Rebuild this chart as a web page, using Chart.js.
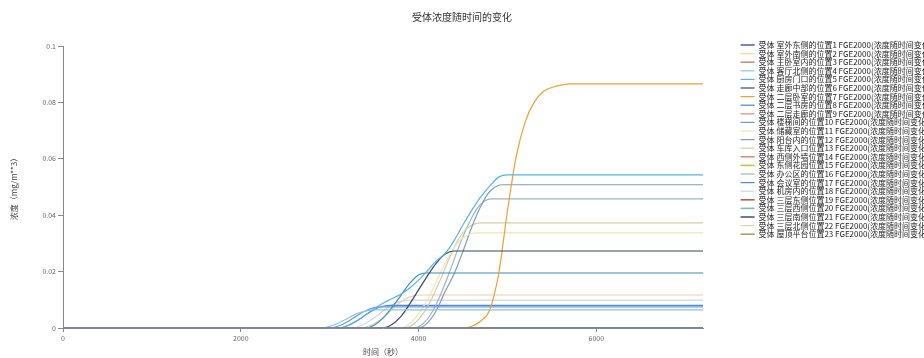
<!DOCTYPE html>
<html>
<head>
<meta charset="utf-8">
<script src="https://cdn.jsdelivr.net/npm/chart.js@4.4.1/dist/chart.umd.min.js"></script>
<style>
  html, body { margin: 0; padding: 0; background: #ffffff; overflow: hidden; }
</style>
</head>
<body>
<canvas id="graficoCurvas" width="924" height="358"></canvas>
<script>
// Etiquetas de la leyenda (una por serie)
const nombres = [
  "受体 室外东侧的位置1 FGE2000(浓度随时间变化)",
  "受体 室外南侧的位置2 FGE2000(浓度随时间变化)",
  "受体 主卧室内的位置3 FGE2000(浓度随时间变化)",
  "受体 客厅北侧的位置4 FGE2000(浓度随时间变化)",
  "受体 厨房门口的位置5 FGE2000(浓度随时间变化)",
  "受体 走廊中部的位置6 FGE2000(浓度随时间变化)",
  "受体 二层卧室的位置7 FGE2000(浓度随时间变化)",
  "受体 二层书房的位置8 FGE2000(浓度随时间变化)",
  "受体 二层走廊的位置9 FGE2000(浓度随时间变化)",
  "受体 楼梯间的位置10 FGE2000(浓度随时间变化)",
  "受体 储藏室的位置11 FGE2000(浓度随时间变化)",
  "受体 阳台内的位置12 FGE2000(浓度随时间变化)",
  "受体 车库入口位置13 FGE2000(浓度随时间变化)",
  "受体 西侧外墙位置14 FGE2000(浓度随时间变化)",
  "受体 东侧花园位置15 FGE2000(浓度随时间变化)",
  "受体 办公区的位置16 FGE2000(浓度随时间变化)",
  "受体 会议室的位置17 FGE2000(浓度随时间变化)",
  "受体 机房内的位置18 FGE2000(浓度随时间变化)",
  "受体 三层东侧位置19 FGE2000(浓度随时间变化)",
  "受体 三层西侧位置20 FGE2000(浓度随时间变化)",
  "受体 三层南侧位置21 FGE2000(浓度随时间变化)",
  "受体 三层北侧位置22 FGE2000(浓度随时间变化)",
  "受体 屋顶平台位置23 FGE2000(浓度随时间变化)"
];

// Colores de cada serie
const colores = [
  "#5468b0", "#ece0a0", "#d98a80", "#8cc4e0", "#56b4e9", "#34496e",
  "#f0a030", "#3d8bc0", "#e8a898", "#6a9be0", "#efe6b8", "#7f9fb8",
  "#d8cca8", "#d88f86", "#d4bc3c", "#9fb4c8", "#4f86e0", "#cdd6e6",
  "#b86050", "#7cbcc0", "#4a5a80", "#e2d4a8", "#b5a055"
];

// Valores [tiempo (s), concentración]
const serieCero = [[0, 0], [7200, 0]];
const serie04 = [[0, 0], [2900, 0], [3000, 0.0006], [3100, 0.0018], [3200, 0.0034], [3300, 0.0050], [3400, 0.0060], [3500, 0.0064], [7200, 0.0064]];
const serie05 = [[0, 0], [3100, 0], [3200, 0.0008], [3300, 0.0025], [3400, 0.0045], [3500, 0.0068], [3600, 0.0088], [3700, 0.0104], [3800, 0.0120], [3900, 0.0142], [4000, 0.0170], [4100, 0.0203], [4200, 0.0238], [4300, 0.0265], [4400, 0.0310], [4500, 0.0366], [4600, 0.0418], [4700, 0.0465], [4800, 0.0503], [4900, 0.0535], [5000, 0.0543], [7200, 0.0543]];
const serie06 = [[0, 0], [3600, 0], [3700, 0.0012], [3800, 0.0040], [3900, 0.0085], [4000, 0.0135], [4100, 0.0185], [4200, 0.0230], [4300, 0.0262], [4400, 0.0273], [7200, 0.0273]];
const serie07 = [[0, 0], [4500, 0], [4600, 0.0006], [4700, 0.0025], [4800, 0.0064], [4900, 0.0190], [5000, 0.0415], [5100, 0.0610], [5200, 0.0731], [5300, 0.0800], [5400, 0.0838], [5500, 0.0853], [5600, 0.0861], [5700, 0.0866], [7200, 0.0866]];
const serie08 = [[0, 0], [3400, 0], [3500, 0.0010], [3600, 0.0035], [3700, 0.0072], [3800, 0.0115], [3900, 0.0158], [4000, 0.0188], [4080, 0.0195], [7200, 0.0195]];
const serie10 = [[0, 0], [3000, 0], [3100, 0.0007], [3200, 0.0022], [3300, 0.0042], [3400, 0.0060], [3500, 0.0072], [3600, 0.0075], [7200, 0.0075]];
const serie11 = [[0, 0], [3800, 0], [3900, 0.0015], [4000, 0.0050], [4100, 0.0100], [4200, 0.0165], [4300, 0.0230], [4400, 0.0285], [4500, 0.0320], [4600, 0.0335], [4650, 0.0337], [7200, 0.0337]];
const serie12 = [[0, 0], [4000, 0], [4100, 0.0018], [4200, 0.0062], [4300, 0.0130], [4400, 0.0192], [4500, 0.0272], [4600, 0.0359], [4700, 0.0432], [4800, 0.0484], [4900, 0.0506], [4950, 0.0508], [7200, 0.0508]];
const serie13 = [[0, 0], [3850, 0], [3950, 0.0015], [4050, 0.0050], [4150, 0.0105], [4250, 0.0175], [4350, 0.0250], [4450, 0.0315], [4550, 0.0355], [4650, 0.0371], [4700, 0.0373], [7200, 0.0373]];
const serie16 = [[0, 0], [3950, 0], [4050, 0.0015], [4150, 0.0055], [4250, 0.0120], [4350, 0.0200], [4450, 0.0285], [4550, 0.0360], [4650, 0.0420], [4750, 0.0452], [4820, 0.0458], [7200, 0.0458]];
const serie17 = [[0, 0], [3100, 0], [3200, 0.0008], [3300, 0.0024], [3400, 0.0045], [3500, 0.0065], [3600, 0.0077], [3680, 0.0080], [7200, 0.0080]];
const serie18 = [[0, 0], [3250, 0], [3350, 0.0008], [3450, 0.0025], [3550, 0.0048], [3650, 0.0072], [3750, 0.0090], [3850, 0.0098], [3900, 0.0099], [7200, 0.0099]];
const serie22 = [[0, 0], [3350, 0], [3450, 0.0008], [3550, 0.0025], [3650, 0.0050], [3750, 0.0080], [3850, 0.0103], [3950, 0.0115], [4000, 0.0117], [7200, 0.0117]];

// Orden igual al de la leyenda
const series = [
  serieCero, serieCero, serieCero, serie04, serie05, serie06,
  serie07, serie08, serieCero, serie10, serie11, serie12,
  serie13, serieCero, serieCero, serie16, serie17, serie18,
  serieCero, serieCero, serieCero, serie22, serieCero
];

// Marcas de los ejes
const ticksX = [0, 2000, 4000, 6000];
const ticksY = [0, 0.02, 0.04, 0.06, 0.08, 0.1];

Chart.defaults.font.family = "'Noto Sans CJK SC', 'Noto Sans', sans-serif";

const datasets = series.map((puntos, i) => ({
  label: nombres[i],
  data: puntos.map(([x, y]) => ({ x: x, y: y })),
  borderColor: colores[i],
  backgroundColor: colores[i],
  borderWidth: puntos === serieCero ? 1.6 : 1.2,
  pointRadius: 0,
  fill: false,
  cubicInterpolationMode: "monotone"
}));

const ctx = document.getElementById("graficoCurvas").getContext("2d");
new Chart(ctx, {
  type: "line",
  data: { datasets: datasets },
  options: {
    responsive: false,
    animation: false,
    layout: { padding: 0 },
    plugins: {
      title: {
        display: true,
        text: "受体浓度随时间的变化",
        color: "#333",
        font: { size: 10, weight: "normal" },
        padding: { top: 11, bottom: 23 }
      },
      legend: {
        display: true,
        position: "right",
        align: "start",
        maxWidth: 184,
        // título vacío: baja la lista hasta la altura del gráfico
        title: { display: true, text: " ", font: { size: 7 }, padding: { top: 32, bottom: 0 } },
        labels: {
          color: "#222",
          font: { size: 8 },
          usePointStyle: true,
          pointStyle: "line",
          pointStyleWidth: 14,
          padding: 0.6
        }
      },
      tooltip: { enabled: false }
    },
    scales: {
      x: {
        type: "linear",
        min: 0,
        max: 7200,
        afterFit: (s) => { s.height = 30; },
        afterBuildTicks: (s) => { s.ticks = ticksX.map(v => ({ value: v })); },
        ticks: { color: "#666", font: { size: 7 }, padding: 2, maxRotation: 0, callback: (v) => String(v) },
        grid: { drawOnChartArea: false, drawTicks: true, tickLength: 4, color: "#888" },
        border: { color: "#888" },
        title: { display: true, text: "时间（秒）", color: "#444", font: { size: 8 }, padding: { top: 0, bottom: 1 } }
      },
      y: {
        type: "linear",
        min: 0,
        max: 0.1,
        afterFit: (s) => { s.width = 63; },
        afterBuildTicks: (s) => { s.ticks = ticksY.map(v => ({ value: v })); },
        ticks: { color: "#666", font: { size: 7 }, padding: 2, callback: (v) => String(v) },
        grid: { drawOnChartArea: false, drawTicks: true, tickLength: 5, color: "#888" },
        border: { color: "#888" },
        title: { display: true, text: "浓度（mg/m**3）", color: "#444", font: { size: 8 }, padding: { top: 9, bottom: 0 } }
      },
      // eje vacío que deja el hueco entre el gráfico y la leyenda
      hueco: {
        type: "linear",
        position: "right",
        display: true,
        afterFit: (s) => { s.width = 37; },
        ticks: { display: false },
        grid: { display: false, drawTicks: false },
        border: { display: false }
      }
    }
  }
});
</script>
</body>
</html>
